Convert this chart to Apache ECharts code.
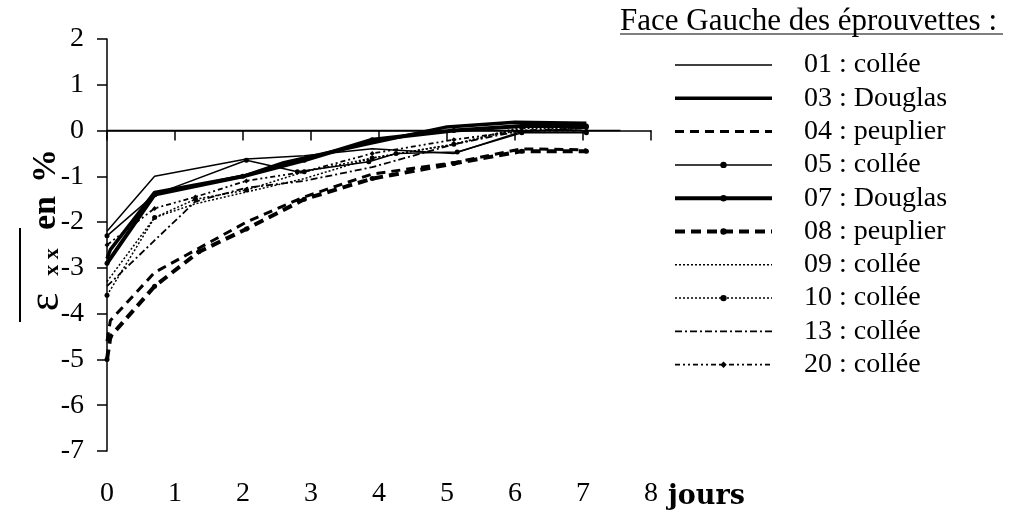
<!DOCTYPE html>
<html>
<head>
<meta charset="utf-8">
<script src="https://cdn.jsdelivr.net/npm/echarts@6/dist/echarts.min.js"></script>
<style>html,body{margin:0;padding:0;background:#fff}#c{width:1013px;height:512px}</style>
</head>
<body>
<div id="c"></div>
<script>
// ---- data (jours, epsilon_xx en %) ----
const xTicks = [0, 1, 2, 3, 4, 5, 6, 7, 8];
const yTicks = [2, 1, 0, -1, -2, -3, -4, -5, -6, -7];
const names = ['01 : collée', '03 : Douglas', '04 : peuplier', '05 : collée', '07 : Douglas',
               '08 : peuplier', '09 : collée', '10 : collée', '13 : collée', '20 : collée'];
const s01 = [[0, -2.2], [0.7, -1.0], [2.05, -0.62], [2.9, -0.55], [3.9, -0.4], [5.1, -0.5], [6.1, -0.02], [7.05, 0.05]];
const s03 = [[0, -2.8], [0.05, -2.6], [0.7, -1.35], [2.0, -1.0], [2.6, -0.7], [3.8, -0.3], [5.0, 0.08], [6.0, 0.18], [7.05, 0.16]];
const s04 = [[0, -4.6], [0.05, -4.15], [0.7, -3.1], [2.05, -2.0], [2.9, -1.45], [3.9, -0.95], [5.1, -0.7], [6.1, -0.4], [7.05, -0.42]];
const s05 = [[0, -2.3], [0.7, -1.4], [2.05, -0.65], [2.8, -0.9], [3.85, -0.68], [4.25, -0.5], [5.15, -0.47], [6.1, -0.05], [7.05, -0.05]];
const s07 = [[0, -2.9], [0.7, -1.4], [2.0, -1.0], [2.9, -0.65], [3.9, -0.2], [5.1, 0.0], [6.1, 0.1], [7.05, 0.1]];
const s08 = [[0, -5.0], [0.05, -4.5], [0.7, -3.4], [1.35, -2.65], [2.05, -2.15], [2.9, -1.5], [3.9, -1.05], [5.1, -0.72], [6.1, -0.45], [7.05, -0.45]];
const s09 = [[0, -3.3], [0.7, -1.9], [1.3, -1.6], [2.9, -1.05], [3.9, -0.6], [5.1, -0.3], [6.1, 0.05], [7.05, 0.05]];
const s10 = [[0, -3.6], [0.7, -1.9], [1.3, -1.5], [2.05, -1.3], [2.9, -0.9], [3.9, -0.6], [5.1, -0.3], [6.1, 0.08], [7.05, 0.08]];
const s13 = [[0, -3.4], [0.7, -2.4], [1.3, -1.55], [2.05, -1.25], [2.9, -1.1], [3.9, -0.8], [5.1, -0.3], [6.1, 0.0], [7.05, 0.05]];
const s20 = [[0, -2.5], [0.7, -1.7], [1.3, -1.45], [2.05, -1.1], [2.9, -0.9], [3.9, -0.5], [5.1, -0.2], [6.1, 0.0], [7.05, 0.0]];
const zeroLine = [[0, 0], [7.55, 0]];

const SERIF = "'Liberation Serif', 'Times New Roman', serif";
const styles = [
  {w: 1.5, t: 'solid', sym: 'none'},
  {w: 3.5, t: 'solid', sym: 'none'},
  {w: 3, t: [9, 6], sym: 'none'},
  {w: 1.5, t: 'solid', sym: 'circle'},
  {w: 4, t: 'solid', sym: 'circle'},
  {w: 4, t: [10, 6], sym: 'circle'},
  {w: 1.5, t: [2, 2], sym: 'none'},
  {w: 1.5, t: [2, 2], sym: 'circle'},
  {w: 1.8, t: [7, 3, 2, 3], sym: 'none'},
  {w: 1.8, t: [5, 3, 2, 3, 2, 3], sym: 'diamond'}
];
const datasets = [s01, s03, s04, s05, s07, s08, s09, s10, s13, s20];

const series = datasets.map((d, i) => ({
  name: names[i],
  type: 'line',
  data: d,
  symbol: styles[i].sym,
  symbolSize: 5,
  showSymbol: styles[i].sym !== 'none',
  itemStyle: {color: '#000'},
  lineStyle: {color: '#000', width: styles[i].w, type: styles[i].t},
  emphasis: {disabled: true},
  animation: false
}));
series.push({
  name: 'zero',
  type: 'line',
  data: zeroLine,
  symbol: 'none',
  lineStyle: {color: '#000', width: 1.5},
  silent: true,
  animation: false
});

const legendData = names.map((n, i) => ({
  name: n,
  lineStyle: {color: '#000', width: styles[i].w, type: styles[i].t},
  itemStyle: {color: '#000', opacity: styles[i].sym === 'none' ? 0 : 1}
}));

function vtext(txt, x, y, font) {
  return {type: 'text', x: x, y: y, rotation: Math.PI / 2,
    style: {text: txt, font: font, fill: '#000', align: 'center', verticalAlign: 'middle'}};
}

const chart = echarts.init(document.getElementById('c'));
chart.setOption({
  backgroundColor: '#fff',
  animation: false,
  grid: {left: 107, right: 362, top: 39, bottom: 61},
  xAxis: {
    type: 'value', min: xTicks[0], max: xTicks[xTicks.length - 1], interval: 1,
    axisLine: {lineStyle: {color: '#000', width: 1.5}},
    axisTick: {inside: false, length: 10, lineStyle: {color: '#000', width: 1.5}},
    axisLabel: {color: '#000', fontFamily: SERIF, fontSize: 28, margin: 29},
    splitLine: {show: false}
  },
  yAxis: {
    type: 'value', min: yTicks[yTicks.length - 1], max: yTicks[0], interval: 1,
    axisLine: {show: true, lineStyle: {color: '#000', width: 1.5}},
    axisTick: {show: true, inside: false, length: 10, lineStyle: {color: '#000', width: 1.5}},
    axisLabel: {color: '#000', fontFamily: SERIF, fontSize: 28, margin: 23},
    splitLine: {show: false}
  },
  legend: {
    data: legendData,
    orient: 'vertical',
    left: 668, top: 45,
    itemWidth: 97, itemHeight: 8, itemGap: 3.3,
    selectedMode: false,
    textStyle: {color: '#000', fontFamily: SERIF, fontSize: 28, lineHeight: 30, padding: [0, 0, 0, 27]}
  },
  graphic: [
    {type: 'text', left: 620, top: 6, style: {text: 'Face Gauche des éprouvettes :', font: "31px 'Liberation Serif', serif", fill: '#000'}},
    {type: 'line', shape: {x1: 620, y1: 34, x2: 1003, y2: 34}, style: {stroke: '#000', lineWidth: 1}},
    {type: 'text', left: 668, top: 483, style: {text: 'jours', font: "bold 27px 'DejaVu Serif', serif", fill: '#000'}},
    vtext('ε', 46, 302, "44px 'Liberation Serif', serif"),
    vtext('x x', 52, 262, "bold 22px 'Liberation Serif', serif"),
    vtext('en', 46, 213, "bold 34px 'Liberation Serif', serif"),
    vtext('%', 46, 166, "bold 34px 'Liberation Serif', serif"),
    {type: 'line', shape: {x1: 20, y1: 228, x2: 20, y2: 322}, style: {stroke: '#000', lineWidth: 2}}
  ],
  series: series
});
</script>
</body>
</html>
